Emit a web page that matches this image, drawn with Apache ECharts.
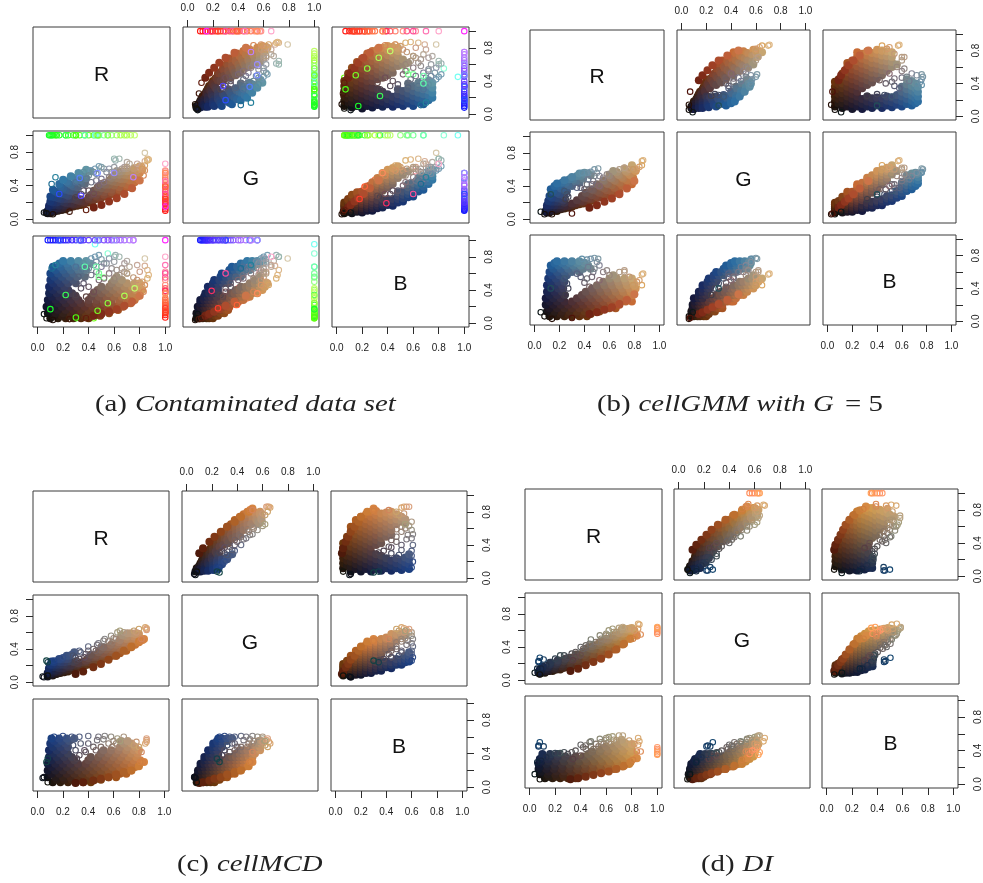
<!DOCTYPE html>
<html><head><meta charset="utf-8">
<style>html,body{margin:0;padding:0;background:#fff}#c{width:983px;height:883px}</style>
<script src="https://cdn.jsdelivr.net/npm/echarts@6/dist/echarts.min.js"></script>
</head><body><div id="c"></div>
<script>
const channelNames = ['R','G','B'];
const xTickValues = [0,0.2,0.4,0.6,0.8,1];
const xTickLabels = [0,0.2,0.4,0.6,0.8,1];
const yTickLabels = [0,0.4,0.8];

// Each row is one pixel: R, G, B in percent.
// a) contaminated data set
const aCore = [[10,7,6],[16,10,6],[22,12,6],[28,15,6],[34,17,6],[40,20,6],
[13,9,9],[19,11,9],[25,14,9],[31,16,9],[37,19,9],[43,22,9],[49,24,9],
[8,7,12],[14,10,12],[20,13,12],[26,15,12],[32,18,12],[38,21,12],[44,23,12],[50,26,12],[56,29,12],
[10,9,16],[16,11,16],[22,14,16],[28,16,16],[34,19,16],[40,22,16],[46,24,16],[52,27,16],[58,30,16],[63,32,16],
[7,8,20],[13,10,20],[19,13,20],[25,15,20],[31,18,20],[37,20,20],[43,23,20],[49,25,20],[55,28,20],[61,31,20],[67,33,20],
[10,10,24],[16,13,24],[22,16,24],[28,18,24],[34,21,24],[40,24,24],[46,27,24],[52,29,24],[58,32,24],[64,35,24],[70,38,24],[73,39,24],
[8,10,28],[14,13,28],[20,16,28],[26,19,28],[32,22,28],[40,26,28],[46,29,28],[52,32,28],[58,35,28],[64,38,28],[70,41,28],[76,44,28],
[11,13,32],[17,16,32],[23,19,32],[30,23,32],[42,29,32],[48,33,32],[54,36,32],[60,40,32],[66,43,32],[72,46,32],[78,49,32],
[9,14,36],[15,17,36],[21,20,36],[27,24,36],[44,34,36],[50,37,36],[56,41,36],[62,44,36],[68,48,36],[74,51,36],[80,55,36],
[12,17,40],[18,21,40],[24,24,40],[47,38,40],[53,41,40],[59,45,40],[65,48,40],[71,52,40],[77,56,40],[82,59,40],
[9,16,44],[15,20,44],[21,24,44],[50,42,44],[56,46,44],[62,49,44],[68,53,44],[74,57,44],[80,61,44],
[12,20,48],[18,24,48],[24,28,48],[30,32,48],[58,49,48],[64,53,48],[70,57,48],[76,61,48],[80,63,48],
[10,21,52],[16,25,52],[22,29,52],[28,33,52],[60,53,52],[66,57,52],
[13,26,56],[19,30,56],[25,34,56],[31,38,56],[37,42,56],[62,57,56],
[10,27,60],[16,31,60],[22,35,60],[28,39,60],[34,43,60],
[14,33,64],[20,37,64],[26,41,64],[32,45,64],[38,49,64],
[12,35,68],[18,39,68],[24,43,68],[30,47,68],[36,51,68],
[17,42,72],[23,45,72],[29,49,72],[35,53,72],[41,57,72],
[20,47,75],[26,51,75],[32,55,75],[38,59,75],
[44,14,9],[50,17,11],[56,21,14],[62,25,17],[68,30,21],[74,37,26],[80,46,33]];
const aRing = [[45,60,80],[48,63,82],[42,58,78],[50,62,77],[36,56,72],[40,52,66],[44,56,70],[52,60,72],[61,70,82],[64,72,80],[60,72,80],
[84,79,78],[70,68,75],[84,69,69],[86,72,64],[87,71,58],[86,70,54],[80,62,62],[78,66,70],[72,66,68],[68,62,72],[70,60,60],[75,60,55],[78,58,52],[82,62,50],[84,64,46],[82,60,44],
[30,26,34],[34,30,42],[38,28,32],[36,34,48],[40,34,44],[32,38,56],[42,44,58],[46,46,62],[50,48,68],[54,56,72],[58,56,66],[48,40,52],[52,44,54],[44,30,38],[56,50,60],[62,58,64],[60,52,54],[66,60,66],[64,56,58],[46,54,74],[38,48,66],[34,46,64],[30,44,68],[56,60,78],[60,62,74],[68,60,62],[70,62,60],
[5,8,11],[12,6,4],[7,7,6],[25,9,5],[38,11,6],[83,52,38],[84,58,46],[11,42,66],[14,50,70]];
const aUnder = [[9,100,12],[11,100,9],[12,100,14],[14,100,10],[15,100,8],[17,100,16],[22,100,12],[24,100,8],[28,100,22],[30,100,6],[33,100,14],[37,100,10],[40,100,18],[44,100,6],[45,100,95],[52,100,55],[55,100,84],[48,100,60],[58,100,50],[62,100,40],[65,100,25],[70,100,30],[73,100,38],
[100,10,7],[100,12,14],[100,14,10],[100,16,22],[100,18,12],[100,20,20],[100,22,13],[100,24,16],[100,26,14],[100,28,16],[100,30,25],[100,33,18],[100,36,24],[100,38,22],[100,41,26],[100,44,28],[100,47,30],[100,50,36],[100,53,46],[100,55,38],[100,57,62],[100,40,42],[100,58,52],[100,35,55],[100,45,70],[100,15,100],
[8,10,100],[10,12,100],[12,11,100],[14,13,100],[16,14,100],[18,18,100],[20,15,100],[22,16,100],[24,20,100],[27,17,100],[30,22,100],[33,25,100],[36,20,100],[40,27,100],[45,30,100],[52,32,100],[55,36,100],[58,30,100],[62,40,100],[65,42,100],[68,46,100],[72,50,100],[75,55,100],[34,24,100],[48,34,100]];
const aOver = [[37,100,68],[46,100,68],[48,100,56],[22,100,34],[47,100,15],[68,100,33],[76,100,42],[55,100,24],[10,100,17],[30,100,7],
[100,19,39],[100,39,22],[100,55,36],[100,66,80],[100,30,60],[100,24,18],
[17,30,100],[33,49,100],[47,55,100],[60,55,100],[34,28,100],[75,50,100]];

// b) cellGMM with G = 5
const bCore = [[12,8,6],[18,10,6],[24,13,6],[30,15,6],[36,18,6],[42,20,6],
[15,10,9],[21,12,9],[27,14,9],[33,17,9],[39,19,9],[45,22,9],
[10,8,12],[16,11,12],[22,13,12],[28,16,12],[34,19,12],[40,22,12],[46,24,12],[52,27,12],
[12,9,16],[18,12,16],[24,15,16],[30,17,16],[36,20,16],[42,22,16],[48,25,16],[54,28,16],[60,30,16],[65,33,16],
[9,9,20],[15,11,20],[21,14,20],[27,16,20],[33,19,20],[39,21,20],[45,24,20],[51,26,20],[57,29,20],[63,31,20],[68,33,20],
[12,11,24],[18,14,24],[24,16,24],[30,19,24],[37,22,24],[43,25,24],[49,28,24],[55,31,24],[61,34,24],[67,37,24],[73,40,24],[78,42,24],
[9,10,28],[15,14,28],[21,17,28],[34,23,28],[40,26,28],[46,29,28],[52,32,28],[58,35,28],[64,38,28],[70,41,28],[76,44,28],
[12,14,32],[18,17,32],[24,20,32],[38,28,32],[44,31,32],[50,34,32],[56,37,32],[62,41,32],[68,44,32],[74,47,32],[79,50,32],
[10,14,36],[16,17,36],[22,21,36],[41,32,36],[47,35,36],[53,39,36],[59,42,36],[65,46,36],[71,49,36],[77,53,36],
[13,17,40],[19,21,40],[23,23,40],[46,36,40],[52,40,40],[58,43,40],[64,47,40],[70,51,40],[76,54,40],[81,58,40],
[10,17,44],[16,21,44],[22,24,44],[50,42,44],[56,46,44],[62,49,44],[68,53,44],[74,57,44],[80,60,44],
[13,21,48],[19,25,48],[24,28,48],[55,47,48],[61,50,48],[67,54,48],[73,58,48],[79,62,48],
[11,22,52],[17,26,52],[23,29,52],[60,54,52],[66,57,52],[72,61,52],[78,65,52],
[14,26,56],[20,30,56],[26,34,56],[63,58,56],
[12,28,60],[18,32,60],[24,36,60],[30,40,60],[36,44,60],
[15,34,64],[21,37,64],[27,41,64],[33,45,64],[39,49,64],[45,53,64],
[13,36,68],[19,40,68],[25,44,68],[31,48,68],[37,52,68],[43,55,68],
[16,40,71],[22,44,71],[28,48,71],[34,52,71],[40,56,71],
[18,43,73],[24,47,73],[30,51,73],[36,55,73],
[44,14,9],[50,17,11],[56,21,14],[62,25,17],[68,30,21],[74,37,26],[80,46,33]];
const bRing = [[45,57,76],[48,60,77],[51,61,76],[42,56,75],[40,54,72],[38,56,76],
[25,24,32],[27,27,40],[26,30,46],[24,34,52],[34,38,58],[37,38,54],[40,36,47],[44,36,42],[47,46,60],[42,42,52],[46,42,54],[52,52,68],[50,56,72],[55,50,60],[52,40,50],[43,48,66],[48,52,64],[58,54,62],[60,52,56],
[68,60,60],[72,62,62],[76,60,54],[86,70,57],[87,71,58],[86,65,44],[82,60,48],[84,63,50],[79,60,44],[72,62,60],
[5,9,11],[8,6,6],[14,6,3],[30,7,4],[13,30,40]];

// c) cellMCD
const cCore = [[12,8,6],[18,11,6],[24,13,6],[30,16,6],[36,19,6],[42,22,6],
[15,10,9],[21,12,9],[27,15,9],[33,18,9],[39,21,9],[45,24,9],[50,26,9],
[8,7,12],[14,10,12],[20,13,12],[26,15,12],[32,18,12],[38,21,12],[44,24,12],[50,26,12],[56,29,12],[62,32,12],
[11,9,16],[17,12,16],[23,15,16],[29,18,16],[35,21,16],[41,24,16],[47,27,16],[53,30,16],[59,32,16],[65,35,16],[70,38,16],
[8,9,20],[14,12,20],[20,15,20],[26,18,20],[32,21,20],[38,24,20],[44,27,20],[50,30,20],[56,33,20],[62,36,20],[68,39,20],[74,42,20],
[11,11,24],[17,14,24],[23,18,24],[29,21,24],[35,24,24],[41,27,24],[47,30,24],[53,33,24],[59,36,24],[65,39,24],[71,42,24],[77,45,24],
[8,11,28],[14,14,28],[20,17,28],[26,20,28],[32,23,28],[38,26,28],[44,30,28],[50,33,28],[56,36,28],[62,39,28],[68,42,28],[74,45,28],[80,48,28],
[11,14,32],[17,17,32],[23,20,32],[29,24,32],[40,29,32],[46,32,32],[52,35,32],[58,39,32],[64,42,32],[70,45,32],[76,48,32],[81,50,32],
[9,14,36],[15,18,36],[21,21,36],[27,25,36],[42,33,36],[48,36,36],[54,39,36],[60,42,36],[66,45,36],[72,49,36],[78,52,36],
[12,18,40],[18,21,40],[24,25,40],[50,39,40],[56,42,40],[62,45,40],[68,48,40],[74,52,40],[79,54,40],
[9,17,44],[15,21,44],[21,24,44],[52,42,44],[58,45,44],[64,48,44],[70,52,44],[76,55,44],[80,58,44],
[12,21,48],[18,24,48],[24,28,48],[65,51,48],[71,55,48],[77,58,48],
[10,21,52],[16,25,52],[22,28,52],[68,56,52],[74,59,52],
[13,24,55],[19,28,55],[25,32,55],[66,57,55],[71,59,55],
[11,25,58],[17,28,58],[23,32,58],[29,36,58],
[30,10,5],[36,13,6],[44,18,8],[50,22,10],[56,27,12],[62,32,15],[68,38,18],[74,43,20],[80,49,25],[84,52,30]];
const cRing = [[13,26,60],[20,30,61],[27,34,60],[33,38,60],[40,43,61],[48,47,60],[53,52,61],[58,56,60],[63,60,58],[68,60,60],[47,45,56],[52,50,57],[37,30,44],[33,28,38],[30,30,44],[38,34,42],[34,36,52],[28,32,50],[40,38,52],[44,40,48],[31,26,34],
[46,38,44],[50,43,48],[59,48,48],[56,49,52],[62,52,52],[60,53,55],
[86,63,56],[86,65,54],[86,64,58],[83,50,30],[81,50,30],[85,66,52],[76,62,50],[80,64,48],[78,60,54],[82,52,42],
[8,8,6],[4,7,11],[5,6,12],[8,24,34],[7,26,30],[65,62,55]];

// d) DI
const dCore = [[12,9,7],[18,11,7],[24,13,7],[30,16,7],[36,18,7],
[15,11,9],[21,13,9],[27,15,9],[33,18,9],[39,20,9],
[8,8,12],[14,11,12],[20,13,12],[26,15,12],[32,18,12],[38,20,12],[44,23,12],[50,25,12],
[9,9,15],[15,11,15],[21,14,15],[27,17,15],[33,19,15],[39,22,15],[45,25,15],[51,27,15],[57,30,15],
[7,9,18],[13,11,18],[19,14,18],[25,17,18],[31,20,18],[37,23,18],[43,26,18],[49,29,18],[55,32,18],[61,34,18],[66,37,18],
[8,10,21],[14,13,21],[20,16,21],[26,19,21],[32,22,21],[38,25,21],[44,28,21],[50,31,21],[56,34,21],[62,37,21],[68,40,21],[73,43,21],
[7,10,24],[13,14,24],[19,17,24],[25,20,24],[31,24,24],[37,27,24],[43,30,24],[49,33,24],[55,37,24],[61,40,24],[67,43,24],[73,47,24],[78,50,24],
[9,12,27],[15,16,27],[21,19,27],[27,23,27],[33,26,27],[39,30,27],[45,33,27],[51,37,27],[57,40,27],[63,44,27],[69,47,27],[75,50,27],[79,53,27],
[8,13,30],[14,16,30],[20,20,30],[26,24,30],[32,27,30],[38,31,30],[44,34,30],[50,38,30],[56,42,30],[62,45,30],[68,49,30],[74,52,30],[80,56,30],
[10,16,33],[16,19,33],[22,22,33],[28,26,33],[36,31,33],[42,35,33],[48,38,33],[54,42,33],[60,46,33],[66,49,33],[72,52,33],[78,56,33],[82,59,33],
[10,17,36],[16,21,36],[22,24,36],[46,39,36],[52,42,36],[58,46,36],[64,49,36],[70,53,36],[76,57,36],[82,60,36],
[49,41,39],[55,45,39],[61,48,39],[67,52,39],[73,56,39],[79,60,39],
[56,47,42],[62,50,42],[68,54,42],[74,57,42],[80,61,42],
[60,50,45],[66,54,45],[72,58,45],[78,62,45],
[70,57,48],[76,61,48],[80,63,48],
[74,62,50],
[72,61,53],
[32,11,6],[38,14,7],[44,18,9],[50,22,11],[56,26,13],[62,31,15],[68,37,18],[74,44,22],[79,50,26],[84,54,31]];
const dRing = [[7,22,45],[8,27,50],[11,25,45],[7,23,46],[100,62,44],[100,60,42],[100,58,40],[100,64,38],[100,56,36],[100,63,35],
[44,39,42],[50,43,42],[48,43,45],[54,46,45],[52,46,48],[58,49,48],[64,53,48],[56,50,50],[62,54,50],[68,58,50],[60,54,53],[66,58,53],
[33,32,38],[36,34,40],[40,40,47],[42,38,44],[47,44,50],[48,49,51],[44,42,46],[55,54,54],[60,56,55],[62,60,56],[65,62,57],[70,63,58],[73,64,58],[68,58,52],[78,62,52],[85,68,55],[86,67,51],[85,62,47],[87,55,39],[84,53,39],[81,50,29],[82,60,48],
[30,28,36],[27,30,38],[24,30,37],[36,28,33],[34,24,30],[40,30,34],[17,22,35],[20,26,37],[13,18,32],[9,14,28],[4,9,12],[6,14,26],[8,7,6]];

// layout
const frames = [
 {cols:[[33,170],[183,319],[332,469]], rows:[[27,118],[131,223],[236,327]], core:aCore, ring:aRing, under:aUnder, over:aOver},
 {cols:[[530,664],[677,810],[823,956]], rows:[[30,120],[132,223],[235,325]], core:bCore, ring:bRing, under:[], over:[]},
 {cols:[[33,169],[182,318],[331,467]], rows:[[491,582],[595,686],[699,791]], core:cCore, ring:cRing, under:[], over:[]},
 {cols:[[525,662],[674,810],[822,959]], rows:[[489,580],[593,684],[696,788]], core:dCore, ring:dRing, under:[], over:[]}
];
const xRange = [-0.036,1.037], yRange = [-0.045,1.05];
const coreSize = 8, ringSize = 5.5;

const ink = '#2b2b2b';
const grids=[], xAxes=[], yAxes=[], series=[], titles=[];
const css = p => 'rgb('+Math.round(p[0]*2.55)+','+Math.round(p[1]*2.55)+','+Math.round(p[2]*(Math.max(p[0],p[1],p[2])<100?2.2:2.55))+')';
function filled(rows,cx,cy){return rows.map(p=>({value:[p[cx]/100,p[cy]/100],itemStyle:{color:css(p),opacity:1}}));}
function rings(rows,cx,cy){return rows.map(p=>({value:[p[cx]/100,p[cy]/100],itemStyle:{color:'rgba(0,0,0,0)',borderColor:css(p),borderWidth:1.1,opacity:1}}));}

frames.forEach(f=>{
 for(let r=0;r<3;r++)for(let c=0;c<3;c++){
  const idx=grids.length, X=f.cols[c], Y=f.rows[r];
  grids.push({left:X[0],top:Y[0],width:X[1]-X[0],height:Y[1]-Y[0],show:true,borderColor:'#3a3a3a',borderWidth:1,backgroundColor:'transparent'});
  const showX=(c===1&&r===0)||(c!==1&&r===2), showY=(r===1&&c===0)||(r!==1&&c===2);
  xAxes.push({gridIndex:idx,type:'value',min:xRange[0],max:xRange[1],position:c===1?'top':'bottom',
   splitLine:{show:false},axisLine:{show:false,onZero:false},
   axisTick:{show:showX,length:7,inside:false,customValues:xTickValues,lineStyle:{color:ink,width:1}},
   axisLabel:{show:showX,margin:c===1?14:16,fontSize:10,color:'#222',fontFamily:'Liberation Sans',customValues:xTickLabels,formatter:v=>v.toFixed(1)}});
  yAxes.push({gridIndex:idx,type:'value',min:yRange[0],max:yRange[1],position:c===2?'right':'left',
   splitLine:{show:false},axisLine:{show:false,onZero:false},
   axisTick:{show:showY,length:7,inside:false,customValues:xTickValues,lineStyle:{color:ink,width:1}},
   axisLabel:{show:showY,margin:c===2?15:13,rotate:90,fontSize:10,color:'#222',fontFamily:'Liberation Sans',customValues:yTickLabels,formatter:v=>v.toFixed(1)}});
  if(r===c){
   titles.push({text:channelNames[r],left:(X[0]+X[1])/2-5,top:(Y[0]+Y[1])/2-13,textAlign:'center',
    textStyle:{fontSize:21,fontWeight:'normal',color:'#111',fontFamily:'Liberation Sans'}});
  } else {
   const base={type:'scatter',xAxisIndex:idx,yAxisIndex:idx,silent:true,animation:false,clip:false,progressive:0};
   series.push(Object.assign({},base,{symbolSize:ringSize,data:rings(f.under,c,r)}));
   series.push(Object.assign({},base,{symbolSize:coreSize,data:filled(f.core,c,r)}));
   series.push(Object.assign({},base,{symbolSize:ringSize,data:rings(f.ring,c,r)}));
   series.push(Object.assign({},base,{symbolSize:ringSize,data:rings(f.over,c,r)}));
  }
 }
});

const serif='"Liberation Serif"';
const cap=(x,y,sx,tag,text)=>({type:'text',x:x,y:y,scaleX:sx,silent:true,style:{
  text:'{u|'+tag+'}  '+text, verticalAlign:'middle', fill:'#222',
  rich:{u:{font:'24px '+serif,fill:'#222'},i:{font:'italic 24px '+serif,fill:'#222'}}}});
const graphics=[
 cap(95,405,1.2,'(a)','{i|Contaminated data set}'),
 cap(597,405,1.2,'(b)','{i|cellGMM with G} {u| = 5}'),
 cap(177,865,1.2,'(c)','{i|cellMCD}'),
 cap(701,865,1.2,'(d)','{i|DI}')
];

const chart=echarts.init(document.getElementById('c'),null,{renderer:'canvas'});
chart.setOption({animation:false,backgroundColor:'#fff',title:titles,grid:grids,xAxis:xAxes,yAxis:yAxes,series:series,graphic:graphics});
</script></body></html>
